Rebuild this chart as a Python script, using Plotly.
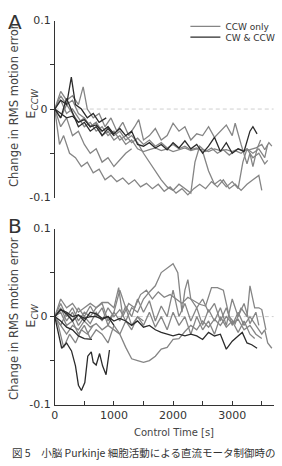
import plotly.graph_objects as go

W, H = 282, 466
GRAY = "#858585"
DARK = "#2b2b2b"
AX = "#333333"
FONT = "DejaVu Sans"

# ---------------- Panel A (E_CCW) ----------------
a_ccw1_t = [0,100,200,300,400,500,600,700,800,900,1000,1100,1200,1300,1400,1500,1600,1700,1800,1900,2000,2100,2200,2300,2400,2500,2600,2700,2800,2900,3000,3100,3200,3300,3400,3500,3550,3620,3670]
a_ccw1_v = [0,0.015,0.005,0.01,-0.005,-0.01,-0.02,-0.015,-0.03,-0.025,-0.035,-0.03,-0.04,-0.035,-0.045,-0.048,-0.046,-0.044,-0.047,-0.045,-0.048,-0.046,-0.044,-0.047,-0.045,-0.046,-0.048,-0.045,-0.047,-0.046,-0.048,-0.045,-0.047,-0.046,-0.044,-0.040,-0.046,-0.038,-0.042]

a_ccw2_t = [0,100,200,300,400,480,550,650,750,850,950,1050,1150,1250,1350,1420,1500,1600,1700,1800,1900,2000,2100,2200,2300,2400,2500,2600,2700,2800,2900,3000,3050,3150,3250,3300,3350,3420,3480]
a_ccw2_v = [0,0.02,0.01,0.015,0.005,0.025,0.0,-0.01,-0.005,-0.02,-0.01,-0.025,-0.015,-0.03,-0.02,-0.012,-0.035,-0.03,-0.022,-0.035,-0.03,-0.016,-0.025,-0.02,-0.035,-0.028,-0.03,-0.02,-0.032,-0.025,-0.018,-0.03,-0.016,-0.04,-0.062,-0.05,-0.065,-0.045,-0.035]

a_ccw3_t = [0,80,150,250,350,450,550,650,750,850,950,1050,1150,1250,1350,1450,1550,1650,1750,1850,1950,2050,2150,2250,2350,2450,2550,2650,2750,2850,2950,3050,3150,3250,3350,3450,3500]
a_ccw3_v = [0,-0.04,-0.03,-0.05,-0.055,-0.065,-0.06,-0.072,-0.068,-0.08,-0.075,-0.082,-0.078,-0.085,-0.08,-0.088,-0.084,-0.09,-0.085,-0.093,-0.088,-0.095,-0.09,-0.097,-0.09,-0.085,-0.09,-0.082,-0.088,-0.08,-0.09,-0.085,-0.092,-0.085,-0.08,-0.075,-0.092]

a_ccw4_t = [0,100,200,300,400,500,600,700,800,900,1000,1100,1200,1300,1400,1500,1600,1700,1800,1900,2000,2100,2200,2300,2370,2450,2550,2650,2750,2850,2950,3050,3150,3250,3350,3450,3550,3600]
a_ccw4_v = [0,-0.01,0.005,-0.005,-0.015,-0.01,-0.02,-0.015,-0.025,-0.02,-0.03,-0.025,-0.035,-0.03,-0.038,-0.05,-0.06,-0.07,-0.08,-0.088,-0.092,-0.085,-0.09,-0.095,-0.06,-0.042,-0.048,-0.044,-0.05,-0.046,-0.052,-0.047,-0.05,-0.045,-0.055,-0.05,-0.062,-0.058]

a_ccw5_t = [0,100,200,300,400,500,600,700,800,900,1000,1100,1200,1300,1400,1500,1600,1700,1800,1900,2000,2100,2200,2300,2400,2500,2600,2700,2800,2900,3000,3100,3180,3250,3350,3450,3550,3600]
a_ccw5_v = [0,0.01,-0.005,0.0,-0.01,-0.02,-0.015,-0.025,-0.02,-0.03,-0.025,-0.035,-0.03,-0.038,-0.033,-0.04,-0.035,-0.042,-0.038,-0.044,-0.04,-0.045,-0.042,-0.046,-0.044,-0.048,-0.07,-0.085,-0.08,-0.088,-0.082,-0.09,-0.06,-0.045,-0.05,-0.045,-0.055,-0.04]

a_ccw6_t = [0,100,200,300,400,500,600,700,800,900,1000,1100,1200,1300]
a_ccw6_v = [0,-0.02,-0.01,-0.03,-0.025,-0.04,-0.05,-0.045,-0.06,-0.055,-0.065,-0.058,-0.05,-0.045]

a_cw1_t = [0,100,200,300,400,500,600,700,800,900,1000,1100,1200,1300,1400,1500,1600,1700,1800,1900,2000,2100,2200,2300,2400,2500,2600,2700,2800,2900,3000,3100,3200,3300,3350,3420]
a_cw1_v = [0,-0.005,-0.01,-0.008,-0.015,-0.012,-0.02,-0.018,-0.025,-0.02,-0.028,-0.022,-0.03,-0.025,-0.04,-0.042,-0.038,-0.044,-0.04,-0.046,-0.038,-0.044,-0.036,-0.045,-0.04,-0.05,-0.042,-0.032,-0.048,-0.038,-0.05,-0.045,-0.048,-0.025,-0.02,-0.028]

a_cw2_t = [0,100,200,280,350,450,550,650,750,870]
a_cw2_v = [0,0.01,0.005,0.036,0.005,0.0,-0.01,-0.005,-0.015,-0.01]

a_cw3_t = [0,100,200,300,400,500,600,700,800,900,1000]
a_cw3_v = [0,-0.01,0.012,-0.005,-0.02,-0.015,-0.025,-0.02,-0.03,-0.022,-0.03]

# ---------------- Panel B (E_CW) ----------------
b_ccw1_t = [0,100,200,300,400,500,600,700,800,900,1000,1100,1200,1300,1400,1500,1600,1700,1800,1900,2000,2080,2150,2200,2250,2300,2400,2500,2600,2700,2800,2900,3000,3100,3200,3300,3400,3500,3550,3600,3670]
b_ccw1_v = [0,0.01,-0.005,0.005,-0.01,0.0,-0.008,0.005,-0.005,0.01,0.0,0.008,-0.005,0.01,0.005,0.02,0.028,0.035,0.05,0.055,0.06,0.05,0.005,0.03,0.042,0.02,0.01,0.02,0.005,0.015,-0.005,0.01,-0.01,0.005,-0.01,0.0,-0.01,-0.02,-0.015,-0.03,-0.036]

b_ccw2_t = [0,100,200,300,400,500,600,700,800,900,1000,1080,1150,1250,1350,1450,1550,1650,1750,1850,1950,2050,2150,2250,2350,2450,2550,2650,2750,2850,2950,3050,3150,3250,3300,3380,3450,3500,3570]
b_ccw2_v = [0,0.015,0.0,0.01,-0.005,0.005,0.0,0.01,0.016,0.016,0.01,0.033,0.0,0.015,0.01,0.025,0.03,0.02,0.028,0.022,0.025,0.02,0.015,0.022,0.018,0.014,0.012,0.033,0.033,0.03,0.0,-0.008,0.01,0.0,0.035,0.01,0.01,0.008,-0.015]

b_ccw3_t = [0,100,200,300,400,500,600,700,800,900,1000,1100,1200,1300,1400,1500,1600,1700,1800,1900,2000,2100,2200,2300,2400,2500,2600,2700,2800,2900,3000,3100,3200,3300,3400,3500]
b_ccw3_v = [0,-0.01,-0.02,-0.01,-0.015,-0.005,-0.012,-0.008,-0.015,-0.01,-0.015,-0.02,-0.035,-0.048,-0.05,-0.052,-0.05,-0.045,-0.037,-0.035,-0.026,-0.025,-0.017,-0.01,-0.015,-0.005,-0.012,-0.003,-0.01,0.0,-0.008,-0.003,-0.015,-0.01,-0.02,-0.025]

b_ccw4_t = [0,100,200,300,400,500,600,700,800,900,1000,1100,1200,1300,1400,1500,1600,1700,1800,1900,2000,2100,2200,2300,2400,2500,2600,2700,2800,2900,3000,3100,3200,3300,3400,3450]
b_ccw4_v = [0,-0.01,0.005,-0.005,0.01,0.0,0.012,0.0,0.01,-0.01,0.005,-0.005,0.012,0.0,0.02,0.005,0.018,-0.005,0.012,0.0,0.03,0.0,0.015,-0.005,0.01,-0.01,0.008,-0.005,0.01,-0.01,0.02,0.0,0.015,-0.008,0.005,-0.01]

b_ccw5_t = [0,100,200,300,400,500,600,700,800,900,1000,1100,1200,1300,1400,1500,1600,1700,1800,1900,2000,2100,2200,2300,2400,2500,2600,2700,2800,2900,3000,3100,3200,3300,3380]
b_ccw5_v = [0,0.005,-0.01,-0.005,-0.02,-0.01,-0.025,-0.015,-0.02,-0.03,-0.01,-0.02,-0.005,-0.015,0.0,-0.01,0.005,-0.012,0.0,-0.015,0.005,-0.01,0.0,-0.02,0.0,-0.015,-0.005,-0.02,0.0,-0.012,-0.005,-0.018,-0.005,-0.02,-0.025]

b_ccw6_t = [0,60,150,250,350,450,550,650]
b_ccw6_v = [0,-0.01,-0.035,-0.02,-0.03,-0.015,-0.02,-0.01]

b_ccw7_t = [0,100,200,300,400,500,600,700,800,900,1000,1100,1200,1300,1400,1500]
b_ccw7_v = [0,0.02,0.01,0.015,0.005,0.01,0.015,0.01,0.015,-0.005,0.005,0.03,0.01,-0.01,0.0,-0.005]

b_cw1_t = [0,50,117,200,283,350,400,450,508,558,617,650,700,758,808,867,925]
b_cw1_v = [0,-0.015,-0.036,-0.03,-0.039,-0.056,-0.078,-0.084,-0.075,-0.045,-0.04,-0.052,-0.055,-0.042,-0.056,-0.066,-0.038]

b_cw2_t = [0,100,200,300,400,500,630]
b_cw2_v = [0,-0.005,-0.012,-0.015,-0.022,-0.025,-0.026]

b_cw3_t = [0,100,200,300,400,500,600,700,800,900,1000,1100,1200,1300,1400,1500,1600,1700,1800,1900,2000,2100,2200,2300,2400,2500,2600,2700,2800,2900,3000,3100,3170,3250,3330,3420]
b_cw3_v = [0,0.008,0.005,0.0,0.002,-0.002,0.0,0.0,-0.003,0.0,-0.005,-0.002,-0.005,-0.01,-0.005,-0.012,-0.01,-0.015,-0.018,-0.02,-0.022,-0.02,-0.022,-0.02,-0.022,-0.026,-0.018,-0.022,-0.02,-0.037,-0.028,-0.022,-0.018,-0.03,-0.032,-0.036]

b_cw4_t = [0,100,200,300,400,500,600,700,800,900,1000]
b_cw4_v = [0,0.008,0.003,-0.005,0.002,-0.005,0.005,0.003,-0.002,0.0,-0.01]

x_tickvals = [0,500,1000,1500,2000,2500,3000,3500]
x_ticktext = ["0","","1000","","2000","","3000",""]
y_minor_vals = [-0.05, 0, 0.05]
y_minor_text = ["", "0", ""]
y_end_vals = [-0.1, 0.1]
y_end_text = ["-0.1", "0.1"]

panelA_gray = [(a_ccw1_t,a_ccw1_v),(a_ccw2_t,a_ccw2_v),(a_ccw3_t,a_ccw3_v),(a_ccw4_t,a_ccw4_v),(a_ccw5_t,a_ccw5_v),(a_ccw6_t,a_ccw6_v)]
panelA_dark = [(a_cw1_t,a_cw1_v),(a_cw2_t,a_cw2_v),(a_cw3_t,a_cw3_v)]
panelB_gray = [(b_ccw1_t,b_ccw1_v),(b_ccw2_t,b_ccw2_v),(b_ccw3_t,b_ccw3_v),(b_ccw4_t,b_ccw4_v),(b_ccw5_t,b_ccw5_v),(b_ccw6_t,b_ccw6_v),(b_ccw7_t,b_ccw7_v)]
panelB_dark = [(b_cw1_t,b_cw1_v),(b_cw2_t,b_cw2_v),(b_cw3_t,b_cw3_v),(b_cw4_t,b_cw4_v)]

fig = go.Figure()

def add_lines(series, xa, ya, color, name, legend_first, legendref):
    for i, (t, v) in enumerate(series):
        fig.add_trace(go.Scatter(
            x=t, y=v, mode="lines", xaxis=xa, yaxis=ya,
            line=dict(color=color, width=1.3),
            name=name, legendgroup=name,
            showlegend=(legend_first and i == 0), legend=legendref,
            hoverinfo="skip"))

add_lines(panelA_gray, "x", "y", GRAY, "CCW only", True, "legend")
add_lines(panelA_dark, "x", "y", DARK, "CW & CCW", True, "legend2")
add_lines(panelB_gray, "x2", "y2", GRAY, "CCW only", False, "legend")
add_lines(panelB_dark, "x2", "y2", DARK, "CW & CCW", False, "legend2")

def py(p):
    return 1 - p / H

def px(p):
    return p / W

xdom = [px(51.5), px(273.5)]
domA = [py(197), py(15)]
domB = [py(410), py(229)]

tickfont = dict(family=FONT, size=11, color=AX)
base_y = dict(range=[-0.1, 0.1], showgrid=False, zeroline=False, fixedrange=True)

fig.update_layout(
    width=W, height=H,
    margin=dict(l=0, r=0, t=0, b=0),
    paper_bgcolor="white", plot_bgcolor="white",
    font=dict(family=FONT, size=11, color=AX),
    xaxis=dict(domain=xdom, range=[0, 3700], anchor="y", visible=False, showgrid=False, zeroline=False),
    yaxis=dict(domain=domA, anchor="x", showline=True, linecolor=AX, linewidth=1,
               ticks="outside", ticklen=4, tickcolor=AX, tickvals=y_minor_vals, ticktext=y_minor_text,
               tickfont=tickfont, **base_y),
    yaxis3=dict(overlaying="y", anchor="x", side="left", showline=False,
                ticks="inside", ticklen=4, tickcolor=AX, tickvals=y_end_vals, ticktext=y_end_text,
                tickfont=tickfont, ticklabelstandoff=3, **base_y),
    xaxis2=dict(domain=xdom, range=[0, 3700], anchor="y2", showline=True, linecolor=AX, linewidth=1,
                ticks="inside", ticklen=4, tickcolor=AX, tickvals=x_tickvals, ticktext=x_ticktext,
                tickfont=tickfont, showgrid=False, zeroline=False),
    yaxis2=dict(domain=domB, anchor="x2", showline=True, linecolor=AX, linewidth=1,
                ticks="outside", ticklen=4, tickcolor=AX, tickvals=y_minor_vals, ticktext=y_minor_text,
                tickfont=tickfont, **base_y),
    yaxis4=dict(overlaying="y2", anchor="x2", side="left", showline=False,
                ticks="inside", ticklen=4, tickcolor=AX, tickvals=y_end_vals, ticktext=y_end_text,
                tickfont=tickfont, ticklabelstandoff=3, **base_y),
    legend=dict(x=px(184), y=py(21), xanchor="left", yanchor="middle",
                font=dict(family=FONT, size=9, color=AX), bgcolor="rgba(0,0,0,0)",
                borderwidth=0, tracegroupgap=0),
    legend2=dict(x=px(184), y=py(32), xanchor="left", yanchor="middle",
                 font=dict(family=FONT, size=9, color=AX), bgcolor="rgba(0,0,0,0)",
                 borderwidth=0, tracegroupgap=0),
    showlegend=True,
)

# dummy traces to activate overlay axes
fig.add_trace(go.Scatter(x=[None], y=[None], xaxis="x", yaxis="y3", showlegend=False, hoverinfo="skip"))
fig.add_trace(go.Scatter(x=[None], y=[None], xaxis="x2", yaxis="y4", showlegend=False, hoverinfo="skip"))

# zero reference lines
for xr, yr in (("x domain", "y"), ("x2 domain", "y2")):
    fig.add_shape(type="line", xref=xr, yref=yr, x0=0, x1=1, y0=0, y1=0,
                  line=dict(color="#cfcfcf", width=1, dash="4px,3px"), layer="below")

ann = []
ann.append(dict(text="A", x=px(2), y=py(2), xanchor="left", yanchor="top",
                font=dict(family=FONT, size=20, color=AX)))
ann.append(dict(text="B", x=px(2), y=py(212), xanchor="left", yanchor="top",
                font=dict(family=FONT, size=20, color=AX)))
ann.append(dict(text="Change in RMS motion error", x=px(10), y=py(102), textangle=-90,
                xanchor="center", yanchor="middle", font=dict(family=FONT, size=11.5, color="#444")))
ann.append(dict(text="Change in RMS motion error", x=px(10), y=py(321), textangle=-90,
                xanchor="center", yanchor="middle", font=dict(family=FONT, size=11.5, color="#444")))
ann.append(dict(text="E<sub><i>CCW</i></sub>", x=px(28), y=py(100), textangle=-90,
                xanchor="center", yanchor="middle", font=dict(family=FONT, size=13, color="#444")))
ann.append(dict(text="E<sub><i>CW</i></sub>", x=px(28), y=py(318), textangle=-90,
                xanchor="center", yanchor="middle", font=dict(family=FONT, size=13, color="#444")))
ann.append(dict(text="Control Time [s]", x=px(172), y=py(439), xanchor="center", yanchor="middle",
                font=dict(family=FONT, size=10, color="#444")))
ann.append(dict(text="図 5\u3000小脳 Purkinje 細胞活動による直流モータ制御時の", x=px(141), y=py(459),
                xanchor="center", yanchor="middle",
                font=dict(family="Noto Sans CJK JP", size=10.5, color="#333")))
for a in ann:
    a.update(xref="paper", yref="paper", showarrow=False)
fig.update_layout(annotations=ann)

fig.write_html("out.html")
